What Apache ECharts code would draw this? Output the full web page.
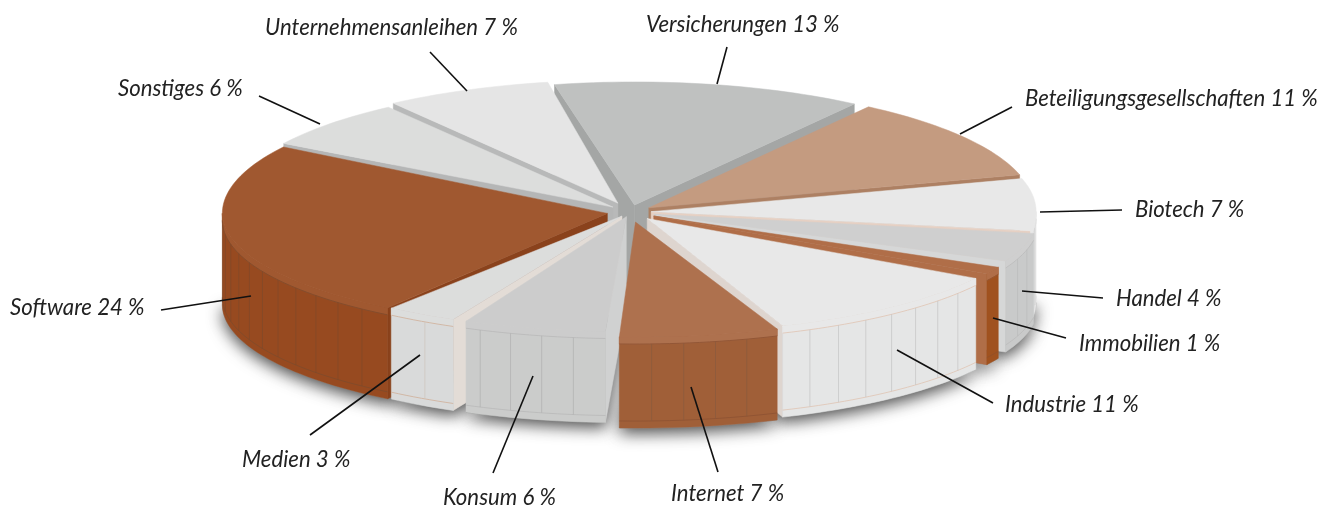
<!DOCTYPE html>
<html><head><meta charset="utf-8">
<style>html,body{margin:0;padding:0;background:#fff}#c{width:1327px;height:508px}</style>
<script src="https://cdn.jsdelivr.net/npm/echarts@6/dist/echarts.min.js"></script>
</head><body><div id="c"></div>
<script>
// data
const names = ['Versicherungen','Beteiligungsgesellschaften','Biotech','Handel','Immobilien','Industrie','Internet','Konsum','Medien','Software','Sonstiges','Unternehmensanleihen'];
const shares = [13,11,7,4,1,11,7,6,3,24,6,7];
// styles, one entry per slice
const explode = [.06,.06,.055,.065,.07,.07,.085,.04,.04,.06,.06,.08];
const nudgeStart = [0,0,0,0,2.5,3.8,1.2,.7,2,0,0,1.5];
const nudgeEnd = [0,0,0,0,2.5,2.2,0,.6,2,1.5,1.5,1.5];
const topColors = ['#bfc1c0','#c49b80','#e8e8e8','#cfcfcf','#b06e48','#e8e8e8','#ae714e','#cccccc','#dcdddc','#a05830','#dcdddc','#e5e5e5'];
const wallColors = ['#bfc1c0','#c49b80','#e6e6e6','#c9caca','#a0521f','#e5e6e6','#a05f38','#cbcccb','#d9dada','#974a20','#dcdddc','#e5e5e5'];
const sideColors = ['#a4a6a5','#ad8063','#e6d0c3','#d6d7d7','#b06e48','#ded5cf','#a05f38','#d0d1d1','#e3dcd6','#8a421c','#b5b6b6','#b8b9b9'];
const edgeColors = ['#aaa','#b58a6e','#ddd','#bbb','#8f4f2a','#dfc4b2','#8d5232','#b9b9b9','#cfae98','#7d4a2c','#ccc','#ccc'];
const stripeColors = ['#aaa','#aaa','#ccc','#bbb','#8f4f2a','#c4c4c4','#8a5a3e','#b0b0b0','#cfc4bc','#80492a','#ccc','#ccc'];
// annotation layout: label left/middle, leader start and end
const labelAt = [[646,25],[1025,99],[1135,210],[1116,299],[1079,344],[1005,405],[671,494],[443,498],[242,460],[10,308],[118,89],[265,28]];
const leaderFrom = [[727,47],[1012,107],[1122,210],[1103,298],[1066,338],[993,403],[718,472],[493,473],[310,435],[161,310],[259,96],[430,52]];
const leaderTo = [[717,84],[960,134],[1040,212],[1022,291],[993,318],[897,350],[691,387],[533,376],[420,355],[251,296],[320,124],[467,91]];
// pie geometry
const CX = 630, CY = 212, RX = 385, RY = 120, RY_BACK = 123, RY_FRONT = 115, H = 91, START = -12, BEVEL = 7, STRIPE_STEP = 4.8;

const RAD = Math.PI / 180;
const starts = []; let acc = START;
shares.forEach(v => { starts.push(acc); acc += v * 3.6; });
const mid = i => starts[i] + shares[i] * 1.8;
const depthOrder = shares.map((_, i) => i).sort((p, q) => -Math.cos(mid(p) * RAD) + Math.cos(mid(q) * RAD));

function renderItem(params, api) {
  const i = params.dataIndex;
  const s = starts[i] + nudgeStart[i], e = starts[i] + api.value(0) * 3.6 + nudgeEnd[i], m = (s + e) / 2;
  const tx = CX + RX * explode[i] * Math.sin(m * RAD);
  const ty = CY - RY * explode[i] * Math.cos(m * RAD);
  const pt = (a, dy) => { const c = Math.cos(a * RAD); return [tx + RX * Math.sin(a * RAD), ty - (c >= 0 ? RY_BACK : RY_FRONT) * c + dy]; };
  const arc = (a, b, dy) => { const o = []; const n = Math.max(2, Math.ceil(Math.abs(b - a) / 1.5)); for (let k = 0; k <= n; k++) o.push(pt(a + (b - a) * k / n, dy)); return o; };
  const z0 = 10 + depthOrder.indexOf(i) * 10;
  const kids = [];
  const poly = (points, fill, z2, extra) => kids.push({ type: 'polygon', silent: true, z2, shape: { points }, style: Object.assign({ fill, stroke: fill, lineWidth: .5 }, extra || {}) });
  const line = (points, stroke, z2, w) => kids.push({ type: 'polyline', silent: true, z2, shape: { points }, style: { stroke, fill: null, lineWidth: w || .8 } });

  // soft shadow on the ground
  const a1 = Math.max(s, 90), a2 = Math.min(e, 270);
  if (a2 > a1) {
    poly([[tx, ty + H]].concat(arc(a1, a2, H)), '#999', 1, { shadowColor: 'rgba(0,0,0,.7)', shadowBlur: 16, shadowOffsetY: 5 });
  }
  // cut faces
  if (Math.sin(s * RAD) < 0) { const c = pt(s, 0); poly([[tx, ty], c, [c[0], c[1] + H], [tx, ty + H]], sideColors[i], z0); }
  if (Math.sin(e * RAD) > 0) { const c = pt(e, 0); poly([[tx, ty], c, [c[0], c[1] + H], [tx, ty + H]], sideColors[i], z0); }
  // outer wall
  if (a2 > a1) {
    poly(arc(a1, a2, 0).concat(arc(a2, a1, H)), wallColors[i], z0 + 1);
    poly(arc(a1, a2, 0).concat(arc(a2, a1, BEVEL)), topColors[i], z0 + 2);
    line(arc(a1, a2, BEVEL), edgeColors[i], z0 + 3);
    line(arc(a1, a2, H - BEVEL), edgeColors[i], z0 + 3);
    for (let a = a1 + STRIPE_STEP; a < a2 - 1.5; a += STRIPE_STEP) {
      const p = pt(a, 0);
      line([[p[0], p[1] + BEVEL], [p[0], p[1] + H - BEVEL]], stripeColors[i], z0 + 3, .7);
    }
  }
  // top
  poly([[tx, ty]].concat(arc(s, e, 0)), topColors[i], z0 + 4);

  // label & leader
  line([leaderFrom[i], leaderTo[i]], '#111', 500, 1.6);
  kids.push({ type: 'text', silent: true, z2: 500, style: {
    text: names[i] + ' ' + api.value(0) + ' %', x: labelAt[i][0], y: labelAt[i][1],
    font: 'italic 22.2px Lato', fill: '#222', textAlign: 'left', textVerticalAlign: 'middle' } });
  return { type: 'group', children: kids };
}

const chart = echarts.init(document.getElementById('c'));
chart.setOption({
  animation: false,
  backgroundColor: '#fff',
  series: [{ type: 'custom', coordinateSystem: 'none', silent: true, renderItem, data: shares.map(v => [v]), clip: false }]
});
</script></body></html>
